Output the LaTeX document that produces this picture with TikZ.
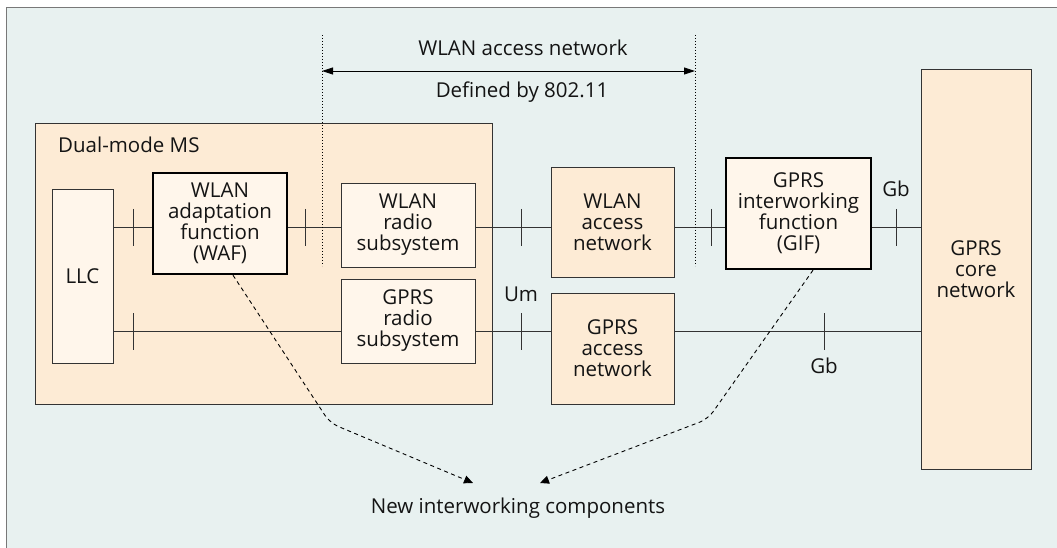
\documentclass[tikz,border=0pt]{standalone}
\usepackage{fontspec}
\setmainfont{Open Sans}
\usetikzlibrary{arrows.meta}
\definecolor{bgc}{HTML}{E8F1F0}
\definecolor{framec}{HTML}{787878}
\definecolor{peach}{HTML}{FDEBD5}
\definecolor{cream}{HTML}{FFF6EB}
\definecolor{edge}{HTML}{333333}
\definecolor{ink}{HTML}{141414}
\tikzset{
  box/.style={draw=edge, line width=0.9pt, inner sep=0pt, align=center, text=ink},
  outerbox/.style={box, fill=peach},
  innerbox/.style={box, fill=cream},
  keybox/.style={innerbox, draw=black, line width=2.4pt},
  link/.style={draw=edge, line width=0.9pt},
  dotline/.style={draw=black, line width=0.9pt, dash pattern=on 1.2pt off 1.8pt},
  dashlink/.style={draw=black, line width=0.9pt, dash pattern=on 4pt off 3.5pt,
    rounded corners=9pt, -{Triangle[length=9pt,width=8pt]}},
  lbl/.style={inner sep=0pt, text=ink},
  barmark/.pic={\draw[link] (0,-18) -- (0,19);}
}
\begin{document}
\begin{tikzpicture}[x=1pt, y=-1pt, font=\fontsize{20.5}{21}\selectfont]
\useasboundingbox (0,0) rectangle (1057,548);
% panel background and frame
\fill[bgc] (7,8) rectangle (1057,548);
\draw[framec, line width=1.8pt] (6.5,548) -- (6.5,7.5) -- (1057,7.5);

% mobile station and its parts
\node[outerbox, minimum width=457pt, minimum height=281pt] (ms) at (263.5,263.5) {};
\node[lbl, anchor=west] (mslabel) at (58,145) {Dual-mode MS};
\node[innerbox, minimum width=61pt, minimum height=174pt] (llc) at (82.5,276) {LLC};
\node[keybox, minimum width=134pt, minimum height=101pt] (waf) at (220,223.5) {WLAN\\adaptation\\function\\(WAF)};
\node[innerbox, minimum width=134pt, minimum height=84pt] (wrs) at (408,225) {WLAN\\radio\\subsystem};
\node[innerbox, minimum width=134pt, minimum height=84pt] (grs) at (408,321) {GPRS\\radio\\subsystem};

% networks
\node[outerbox, minimum width=123pt, minimum height=110pt] (wan) at (612.5,222) {WLAN\\access\\network};
\node[outerbox, minimum width=123pt, minimum height=111pt] (gan) at (612.5,348.5) {GPRS\\access\\network};
\node[keybox, minimum width=145pt, minimum height=111pt] (gif) at (798.5,213.5) {GPRS\\interworking\\function\\(GIF)};
\node[outerbox, minimum width=110pt, minimum height=400pt] (core) at (976,269) {GPRS\\core\\network};

% interface lines
\coordinate (ytop) at (0,227);
\coordinate (ybot) at (0,331);
\draw[link] (llc.east |- ytop) -- (waf.west |- ytop);
\draw[link] (waf.east |- ytop) -- (wrs.west |- ytop);
\draw[link] (wrs.east |- ytop) -- (wan.west |- ytop);
\draw[link] (wan.east |- ytop) -- (gif.west |- ytop);
\draw[link] (gif.east |- ytop) -- (core.west |- ytop);
\draw[link] (llc.east |- ybot) -- (grs.west |- ybot);
\draw[link] (grs.east |- ybot) -- (gan.west |- ybot);
\draw[link] (gan.east |- ybot) -- (core.west |- ybot);

% reference point marks
\pic at (133,227) {barmark};
\pic at (305,227) {barmark};
\pic at (521,227) {barmark};
\pic at (711,227) {barmark};
\pic at (896,227) {barmark};
\pic at (133,331) {barmark};
\pic at (521,331) {barmark};
\pic at (824,331) {barmark};
\node[lbl] (um) at (521,294) {Um};
\node[lbl] (gbtop) at (896,189) {Gb};
\node[lbl] (gbbot) at (824,366) {Gb};

% extent of the WLAN access network
\coordinate (d1t) at (322,35);
\coordinate (d1b) at (322,266);
\coordinate (d2t) at (695,35);
\coordinate (d2b) at (695,266);
\draw[dotline] (d1t) -- (d1b);
\draw[dotline] (d2t) -- (d2b);
\coordinate (a1) at (322,71);
\coordinate (a2) at (695,71);
\draw[black, line width=0.9pt, {Triangle[length=11pt,width=7pt]}-{Triangle[length=11pt,width=7pt]}] (a1) -- (a2);
\node[lbl] (wantitle) at (523,48) {WLAN access network};
\node[lbl] (defby) at (522,92) {Defined by 802.11};

% new components callout
\node[lbl] (newc) at (518,508) {New interworking components};
\draw[dashlink] ([xshift=13pt]waf.south) -- (330,423) -- ([xshift=-45pt,yshift=25pt]newc.center);
\draw[dashlink] ([xshift=14.5pt]gif.south) -- (708,419) -- ([xshift=22pt,yshift=25pt]newc.center);
\end{tikzpicture}
\end{document}
